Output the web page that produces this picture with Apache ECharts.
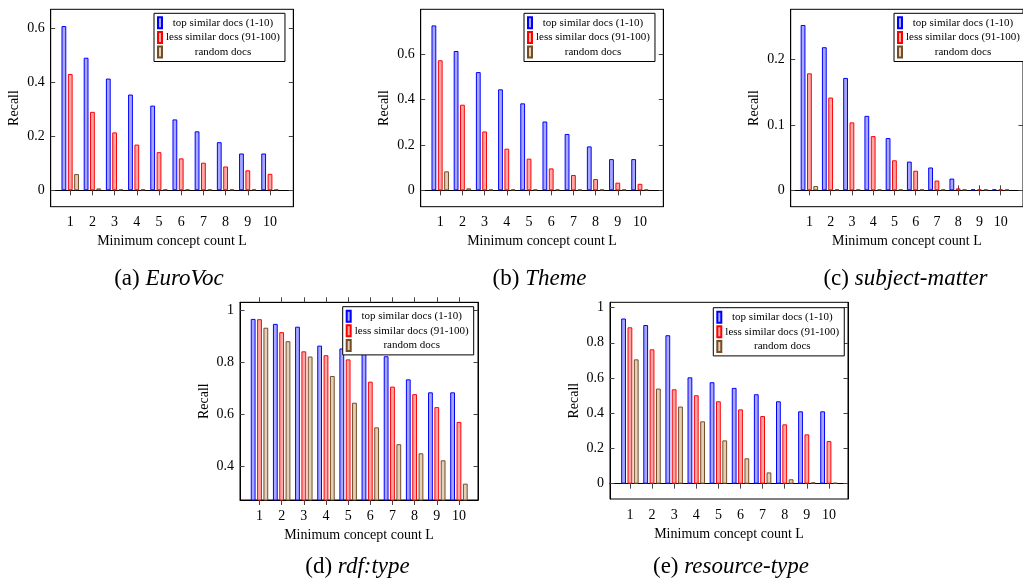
<!DOCTYPE html>
<html>
<head>
<meta charset="utf-8">
<script src="https://cdn.jsdelivr.net/npm/echarts@6/dist/echarts.min.js"></script>
<style>
html,body{margin:0;padding:0;background:#fff;}
#c{width:1023px;height:588px;}
</style>
</head>
<body>
<div id="c"></div>
<script>
const L = [1, 2, 3, 4, 5, 6, 7, 8, 9, 10];
const seriesNames = ['top similar docs (1-10)', 'less similar docs (91-100)', 'random docs'];

const eurovocTop = [0.607, 0.490, 0.413, 0.354, 0.313, 0.262, 0.218, 0.178, 0.136, 0.136];
const eurovocLess = [0.430, 0.290, 0.214, 0.169, 0.141, 0.118, 0.102, 0.088, 0.074, 0.061];
const eurovocRandom = [0.060, 0.007, 0, 0, 0, 0, 0, 0, 0, 0];

const themeTop = [0.728, 0.615, 0.522, 0.446, 0.384, 0.304, 0.249, 0.194, 0.138, 0.138];
const themeLess = [0.574, 0.378, 0.260, 0.184, 0.140, 0.097, 0.068, 0.050, 0.034, 0.029];
const themeRandom = [0.084, 0.009, 0, 0, 0, 0, 0, 0, 0, 0];

const subjectTop = [0.253, 0.219, 0.172, 0.114, 0.080, 0.044, 0.035, 0.018, 0, 0];
const subjectLess = [0.179, 0.142, 0.104, 0.083, 0.046, 0.030, 0.015, 0.003, 0, 0];
const subjectRandom = [0.0066, 0, 0, 0, 0, 0, 0, 0, 0, 0];

const rdfTop = [0.968, 0.949, 0.938, 0.865, 0.854, 0.845, 0.824, 0.735, 0.685, 0.685];
const rdfLess = [0.967, 0.917, 0.843, 0.828, 0.812, 0.726, 0.707, 0.678, 0.628, 0.571];
const rdfRandom = [0.934, 0.882, 0.823, 0.748, 0.645, 0.550, 0.485, 0.450, 0.423, 0.333];

const resTop = [0.938, 0.901, 0.843, 0.604, 0.576, 0.544, 0.508, 0.468, 0.411, 0.411];
const resLess = [0.888, 0.763, 0.536, 0.502, 0.468, 0.422, 0.384, 0.337, 0.280, 0.242];
const resRandom = [0.706, 0.540, 0.438, 0.354, 0.246, 0.144, 0.064, 0.025, 0.008, 0.002];

const yTicksA = [0, 0.2, 0.4, 0.6];
const yTicksB = [0, 0.2, 0.4, 0.6];
const yTicksC = [0, 0.1, 0.2];
const yTicksD = [0.4, 0.6, 0.8, 1];
const yTicksE = [0, 0.2, 0.4, 0.6, 0.8, 1];

const titlePrefix = ['(a) ', '(b) ', '(c) ', '(d) ', '(e) '];
const titleNames = ['EuroVoc', 'Theme', 'subject-matter', 'rdf:type', 'resource-type'];
const xName = 'Minimum concept count L';
const yName = 'Recall';

const FONT = 'Liberation Serif';
const panels = [
  {grid: {left: 50.7, top: 9.3, width: 242.6, height: 197.4}, x: [0.12, 11.05], y: [-0.0606, 0.669], yt: yTicksA, data: [eurovocTop, eurovocLess, eurovocRandom], leg: [154, 13.3], title: [169, 279]},
  {grid: {left: 420.7, top: 9.3, width: 242.6, height: 197.4}, x: [0.12, 11.05], y: [-0.072, 0.799], yt: yTicksB, data: [themeTop, themeLess, themeRandom], leg: [524, 13.3], title: [539.5, 279]},
  {grid: {left: 790.7, top: 9.3, width: 242.6, height: 197.4}, x: [0.12, 11.05], y: [-0.025, 0.277], yt: yTicksC, data: [subjectTop, subjectLess, subjectRandom], leg: [894, 13.3], title: [905.5, 279]},
  {grid: {left: 240, top: 302.3, width: 238, height: 197.7}, x: [0.12, 10.86], y: [0.270, 1.032], yt: yTicksD, data: [rdfTop, rdfLess, rdfRandom], leg: [342.7, 306.7], title: [357.5, 567]},
  {grid: {left: 610, top: 302.3, width: 238, height: 196.7}, x: [0.10, 10.86], y: [-0.087, 1.030], yt: yTicksE, data: [resTop, resLess, resRandom], leg: [713.3, 307.7], title: [731, 567]}
];

const styles = [
  {color: '#a8a8ff', borderColor: '#0000ff'},
  {color: '#ffa8a8', borderColor: '#ff0000'},
  {color: '#e6cfb8', borderColor: '#734d26'}
];

const tickStyle = {color: '#444', width: 1};
const grids = [], xAxes = [], yAxes = [], series = [], legends = [], titles = [];

panels.forEach((p, i) => {
  grids.push(Object.assign({show: true, borderColor: '#000', borderWidth: 1, backgroundColor: 'transparent'}, p.grid));
  xAxes.push({
    type: 'value', gridIndex: i, position: 'bottom', min: p.x[0], max: p.x[1],
    name: xName, nameLocation: 'middle', nameGap: 28,
    nameTextStyle: {fontFamily: FONT, fontSize: 14, color: '#000'},
    axisLine: {show: true, lineStyle: {color: '#000', width: 1}},
    axisTick: {show: true, inside: false, length: 5, lineStyle: tickStyle, customValues: L},
    axisLabel: {show: true, margin: 9, fontFamily: FONT, fontSize: 14, color: '#000', customValues: L},
    splitLine: {show: false}
  });
  xAxes.push({
    type: 'value', gridIndex: i, position: 'top', min: p.x[0], max: p.x[1],
    axisLine: {show: true, lineStyle: {color: '#000', width: 1}},
    axisTick: {show: true, inside: false, length: 5, lineStyle: tickStyle, customValues: L},
    axisLabel: {show: false, customValues: L},
    splitLine: {show: false}
  });
  yAxes.push({
    type: 'value', gridIndex: i, position: 'left', min: p.y[0], max: p.y[1],
    name: yName, nameLocation: 'middle', nameGap: 29, nameRotate: 90,
    nameTextStyle: {fontFamily: FONT, fontSize: 14, color: '#000'},
    axisLine: {show: true, lineStyle: {color: '#000', width: 1}},
    axisTick: {show: true, inside: true, length: 4.5, lineStyle: tickStyle, customValues: p.yt},
    axisLabel: {show: true, margin: 6, fontFamily: FONT, fontSize: 14, color: '#000', customValues: p.yt},
    splitLine: {show: false}
  });
  yAxes.push({
    type: 'value', gridIndex: i, position: 'right', min: p.y[0], max: p.y[1],
    axisLine: {show: true, lineStyle: {color: '#000', width: 1}},
    axisTick: {show: true, inside: true, length: 4.5, lineStyle: tickStyle, customValues: p.yt},
    axisLabel: {show: false, customValues: p.yt},
    splitLine: {show: false}
  });
  p.data.forEach((vals, k) => {
    series.push({
      type: 'bar', name: seriesNames[k], xAxisIndex: 2 * i, yAxisIndex: 2 * i,
      data: L.map((x, j) => [x, vals[j]]),
      barWidth: 4.8, barGap: '32%', barMinHeight: 1,
      itemStyle: {color: styles[k].color, borderColor: styles[k].borderColor, borderWidth: 1},
      emphasis: {disabled: true}, animation: false, clip: true
    });
  });
  legends.push({
    left: p.leg[0], top: p.leg[1], orient: 'vertical', selectedMode: false,
    data: seriesNames, icon: 'rect', itemWidth: 4, itemHeight: 11, itemGap: 1.6,
    backgroundColor: '#fff', borderColor: '#000', borderWidth: 1, borderRadius: 0,
    padding: [3, 5, 3, 3],
    formatter: '{c|{name}}',
    textStyle: {fontFamily: FONT, fontSize: 11, color: '#000', lineHeight: 13,
      rich: {c: {width: 112, align: 'center', fontFamily: FONT, fontSize: 11, color: '#000', lineHeight: 13}}}
  });
  titles.push({
    text: titlePrefix[i] + '{i|' + titleNames[i] + '}',
    left: p.title[0], top: p.title[1], textAlign: 'center', textVerticalAlign: 'middle', padding: 0,
    textStyle: {fontFamily: FONT, fontSize: 23, fontWeight: 'normal', color: '#000',
      rich: {i: {fontFamily: FONT, fontSize: 23, fontStyle: 'italic', color: '#000'}}}
  });
});

const chart = echarts.init(document.getElementById('c'), null, {renderer: 'canvas'});
chart.setOption({
  animation: false,
  backgroundColor: '#fff',
  title: titles,
  grid: grids,
  xAxis: xAxes,
  yAxis: yAxes,
  legend: legends,
  series: series
});
</script>
</body>
</html>
